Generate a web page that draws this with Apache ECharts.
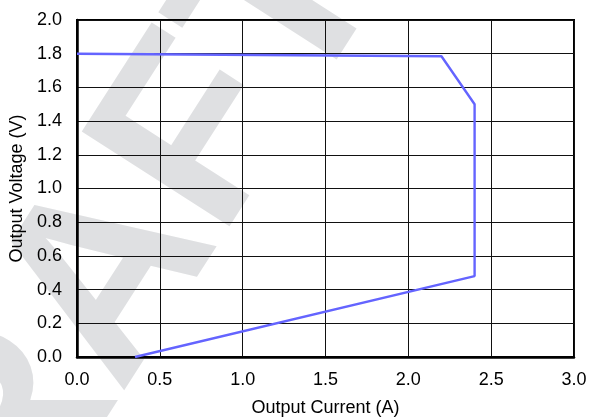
<!DOCTYPE html>
<html>
<head>
<meta charset="utf-8">
<script src="https://cdn.jsdelivr.net/npm/echarts@6/dist/echarts.min.js"></script>
<style>
  html, body { margin: 0; padding: 0; background: #fff; }
  #chart { width: 589px; height: 417px; }
</style>
</head>
<body>
<div id="chart"></div>
<script>
// Output voltage vs. output current (foldback current limit curve)
const currentA = [0.0, 2.20, 2.40, 2.40, 0.35];
const voltageV = [1.80, 1.785, 1.50, 0.48, 0.00];

const xTicks = { min: 0, max: 3.0, step: 0.5 };
const yTicks = { min: 0, max: 2.0, step: 0.2 };

const xName = 'Output Current (A)';
const yName = 'Output Voltage (V)';
const stamp = 'DRAFT';

const points = currentA.map((c, i) => [c, voltageV[i]]);

const chart = echarts.init(document.getElementById('chart'), null, { renderer: 'canvas' });
const font = 'Liberation Sans, Arial, sans-serif';

chart.setOption({
  animation: false,
  backgroundColor: '#fff',
  graphic: [{
    type: 'text',
    z: -100,
    x: 96,
    y: 304,
    rotation: 57.3 * Math.PI / 180,
    style: {
      text: stamp,
      fontSize: 255,
      fontWeight: 'bold',
      fontFamily: font,
      fill: '#dfe0e2',
      align: 'center',
      verticalAlign: 'middle'
    }
  }],
  grid: {
    left: 77, right: 15, top: 20, bottom: 60,
    containLabel: false,
    outerBoundsMode: 'none',
    show: true, borderColor: '#000', borderWidth: 2,
    backgroundColor: 'transparent'
  },
  xAxis: {
    type: 'value',
    min: xTicks.min, max: xTicks.max, interval: xTicks.step,
    name: xName, nameLocation: 'middle', nameGap: 42,
    nameTextStyle: { color: '#000', fontSize: 18, fontFamily: font },
    axisLine: { show: true, lineStyle: { color: '#000', width: 2.5 } },
    axisTick: { show: false },
    axisLabel: { color: '#000', fontSize: 18, fontFamily: font, margin: 14,
                 formatter: v => v.toFixed(1) },
    splitLine: { show: true, lineStyle: { color: '#111', width: 1 } }
  },
  yAxis: {
    type: 'value',
    min: yTicks.min, max: yTicks.max, interval: yTicks.step,
    name: yName, nameLocation: 'middle', nameGap: 50,
    nameTextStyle: { color: '#000', fontSize: 18, fontFamily: font },
    axisLine: { show: true, lineStyle: { color: '#000', width: 2.5 } },
    axisTick: { show: false },
    axisLabel: { color: '#000', fontSize: 18, fontFamily: font, margin: 15,
                 formatter: v => v.toFixed(1) },
    splitLine: { show: true, lineStyle: { color: '#111', width: 1 } }
  },
  series: [{
    type: 'line',
    data: points,
    showSymbol: false,
    symbol: 'none',
    lineStyle: { color: '#6464ff', width: 2.4 },
    z: 5
  }]
});
</script>
</body>
</html>
